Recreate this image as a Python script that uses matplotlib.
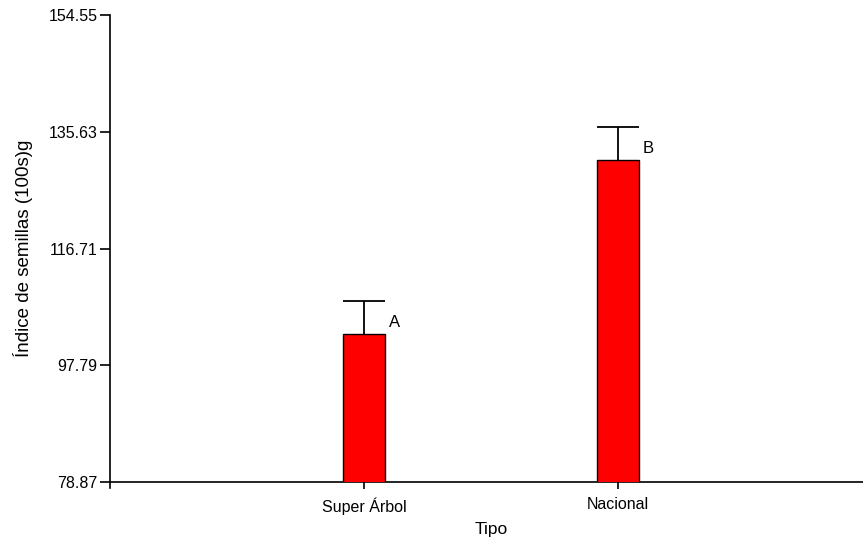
import matplotlib.pyplot as plt

plt.rcParams['font.family'] = ['Liberation Sans', 'DejaVu Sans']

tipos = ['Super Árbol', 'Nacional']
medias = [102.85, 131.05]
errores = [5.35, 5.4]
letras = ['A', 'B']
yticks = [78.87, 97.79, 116.71, 135.63, 154.55]

fig = plt.figure(figsize=(8.63, 5.39), dpi=100)
# caja de ejes: izq 110px, abajo 482px, arriba 15px, derecha fuera de la imagen
ax = fig.add_axes([110 / 863, (539 - 482) / 539, 762 / 863, 467 / 539])

x = [1, 2]
ancho = 0.167
ax.bar(x, medias, width=ancho, color='#ff0000', edgecolor='black', linewidth=1.0, zorder=3)

# solo la barra de error superior
for xi, m, e in zip(x, medias, errores):
    ax.vlines(xi, m, m + e, color='black', linewidth=1.3, zorder=2)
    ax.hlines(m + e, xi - ancho / 2, xi + ancho / 2, color='black', linewidth=1.3, zorder=2)

for xi, m, l in zip(x, medias, letras):
    ax.text(xi + 0.098, m + 1.8, l, fontsize=12, ha='left', va='center')

ax.set_xlim(0, 3)
ax.set_ylim(yticks[0], yticks[-1])
ax.set_xticks(x)
ax.set_xticklabels(tipos)
ax.set_yticks(yticks)
ax.set_yticklabels([f'{v:.2f}' for v in yticks])

ax.spines['top'].set_visible(False)
ax.spines['right'].set_visible(False)
ax.spines['left'].set_bounds(yticks[0] - 1.0, yticks[-1])
for s in ['left', 'bottom']:
    ax.spines[s].set_linewidth(1.2)
ax.tick_params(axis='y', length=7, width=1.2, pad=2, labelsize=11.5)
ax.tick_params(axis='x', length=5, width=1.2, pad=6, labelsize=11.5)

ax.set_xlabel('Tipo', fontsize=12.5, labelpad=5)
ax.set_ylabel('Índice de semillas (100s)g', fontsize=13.5, labelpad=11)

fig.savefig('out.png', dpi=100)
